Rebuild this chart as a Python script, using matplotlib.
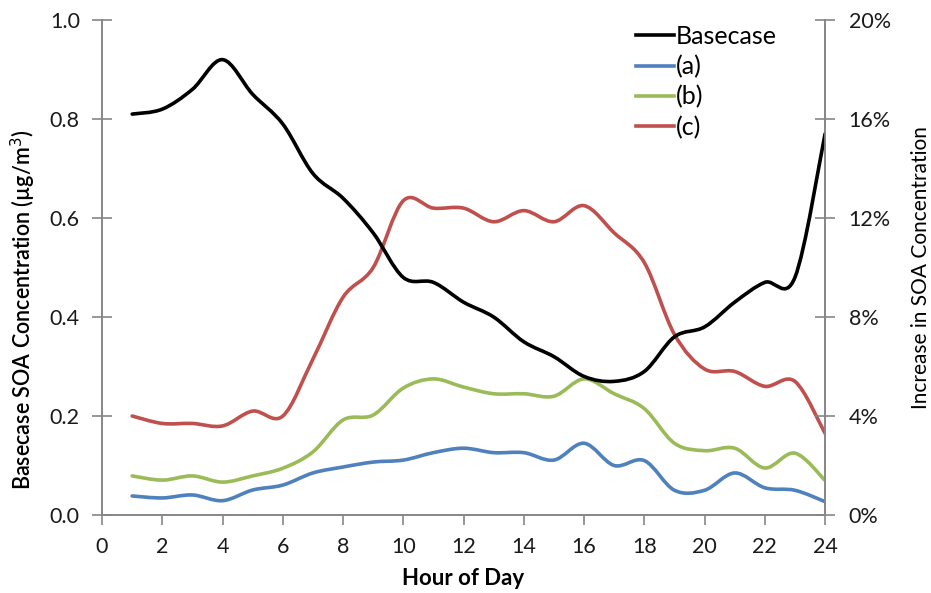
import numpy as np
import matplotlib
matplotlib.use("Agg")
from matplotlib import pyplot as plt
from matplotlib.path import Path
from matplotlib.patches import PathPatch
from matplotlib.lines import Line2D
from matplotlib.ticker import FuncFormatter

plt.rcParams['font.family'] = ['Lato', 'DejaVu Sans']

hours = list(range(1, 25))
basecase = [0.81, 0.82, 0.86, 0.92, 0.85, 0.79, 0.69, 0.64, 0.57, 0.48, 0.47, 0.43,
            0.40, 0.35, 0.32, 0.28, 0.27, 0.29, 0.36, 0.38, 0.43, 0.47, 0.48, 0.77]
case_a = [0.77, 0.69, 0.81, 0.58, 1.01, 1.21, 1.70, 1.94, 2.14, 2.22, 2.52, 2.70,
          2.52, 2.52, 2.22, 2.90, 2.00, 2.20, 1.00, 1.00, 1.70, 1.10, 1.00, 0.54]
case_b = [1.58, 1.41, 1.58, 1.33, 1.58, 1.89, 2.55, 3.84, 4.04, 5.13, 5.50, 5.17,
          4.90, 4.90, 4.80, 5.50, 4.90, 4.30, 2.90, 2.60, 2.70, 1.90, 2.50, 1.40]
case_c = [4.0, 3.7, 3.7, 3.6, 4.2, 4.0, 6.3, 8.8, 10.0, 12.7, 12.4, 12.4,
          11.85, 12.3, 11.85, 12.5, 11.4, 10.2, 7.3, 5.9, 5.8, 5.2, 5.4, 3.3]


def smooth_path(x, y):
    # Excel style smoothed line: cubic bezier through every data point
    x = np.asarray(x, float)
    y = np.asarray(y, float)
    pts = np.column_stack([x, y])
    n = len(pts)
    verts = [pts[0]]
    codes = [Path.MOVETO]
    for i in range(n - 1):
        p0 = pts[max(i - 1, 0)]
        p1 = pts[i]
        p2 = pts[i + 1]
        p3 = pts[min(i + 2, n - 1)]
        c1 = p1 + (p2 - p0) / 6.0
        c2 = p2 - (p3 - p1) / 6.0
        verts += [c1, c2, p2]
        codes += [Path.CURVE4] * 3
    return Path(verts, codes)


fig = plt.figure(figsize=(9.31, 5.93), dpi=100)
ax = fig.add_axes([0.1096, 0.1315, 0.7766, 0.8347])
ax2 = ax.twinx()

spine_col = '#868686'
lw = 2.6

ax.set_xlim(0, 24)
ax.set_ylim(0, 1.0)
ax2.set_ylim(0, 20)

series_right = [(case_a, '#4F81BD', '(a)'), (case_b, '#9BBB59', '(b)'), (case_c, '#C0504D', '(c)')]
for vals, col, lab in series_right:
    ax2.add_patch(PathPatch(smooth_path(hours, vals), facecolor='none', edgecolor=col,
                            lw=lw, capstyle='round', joinstyle='round'))
ax2.add_patch(PathPatch(smooth_path(hours, [v * 20 for v in basecase]), facecolor='none',
                        edgecolor='black', lw=lw, capstyle='round', joinstyle='round'))

ax.set_xticks(range(0, 25, 2))
ax.set_yticks(np.arange(0, 1.01, 0.2))
ax.yaxis.set_major_formatter(FuncFormatter(lambda v, p: f"{v:.1f}"))
ax2.set_yticks(range(0, 21, 4))
ax2.yaxis.set_major_formatter(FuncFormatter(lambda v, p: f"{v:.0f}%"))

for a in (ax, ax2):
    a.spines['top'].set_visible(False)
    for s in ('left', 'right', 'bottom'):
        a.spines[s].set_color(spine_col)
        a.spines[s].set_linewidth(1.2)
    a.tick_params(colors=spine_col, labelcolor='#1a1a1a', labelsize=15.5, width=1.2)
ax.tick_params(axis='y', direction='inout', length=14, pad=9)
ax2.tick_params(axis='y', direction='inout', length=14, pad=10)
ax.tick_params(axis='x', direction='out', length=7, pad=9)

ax.set_xlabel('Hour of Day', fontsize=16, fontweight='bold', labelpad=8)
ax.set_ylabel('Basecase SOA Concentration (µg/m$^3$)', fontsize=15.5, fontweight='semibold')
ax.yaxis.set_label_coords(-0.089, 0.415)
ax2.set_ylabel('Increase in SOA Concentration', fontsize=15)
ax2.yaxis.set_label_coords(1.119, 0.5)

handles = [Line2D([], [], color='black', lw=lw, label='Basecase')]
handles += [Line2D([], [], color=c, lw=lw, label=l) for _, c, l in series_right]
ax2.legend(handles=handles, loc='upper left', bbox_to_anchor=(0.725, 1.01), frameon=False,
           fontsize=18, handlelength=1.5, handletextpad=0.1, labelspacing=0.28,
           borderaxespad=0)

fig.savefig('out.png', dpi=100)
